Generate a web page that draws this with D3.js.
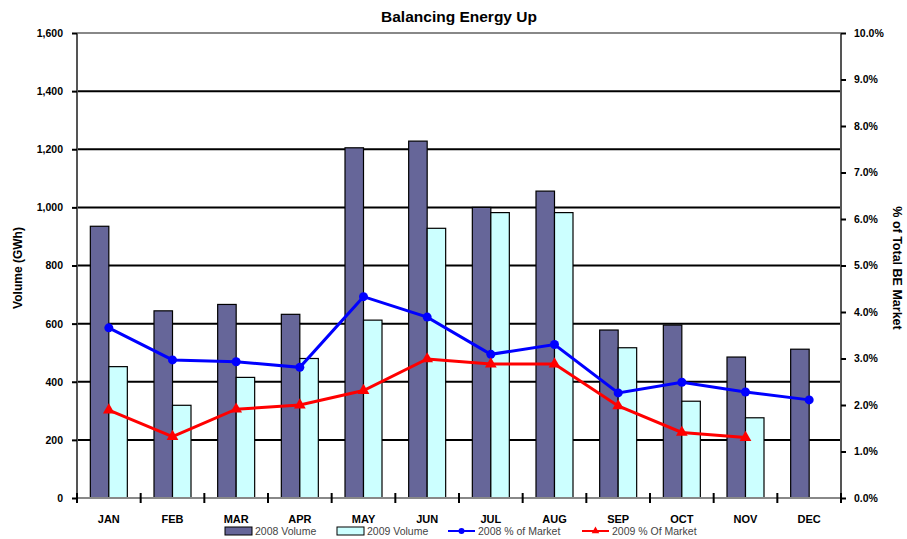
<!DOCTYPE html>
<html><head><meta charset="utf-8">
<script src="https://cdn.jsdelivr.net/npm/d3@7"></script>
<style>
body{margin:0;background:#fff;}
text{font-family:"Liberation Sans",Arial,sans-serif;}
</style></head>
<body><svg id="c" width="907" height="539"></svg>
<script>
const months = ["JAN","FEB","MAR","APR","MAY","JUN","JUL","AUG","SEP","OCT","NOV","DEC"];
const vol2008 = [935,644,666,632,1205,1228,1000,1056,578,595,485,512];
const vol2009 = [452,319,415,480,612,928,982,982,517,333,276,null];
const pct2008 = [3.66,2.97,2.93,2.81,4.33,3.89,3.09,3.30,2.26,2.49,2.28,2.11];
const pct2009 = [1.89,1.32,1.91,2.00,2.31,2.99,2.88,2.88,1.98,1.41,1.30,null];
const volTicks = [0,200,400,600,800,1000,1200,1400,1600];
const pctTicks = [0,1,2,3,4,5,6,7,8,9,10];
const seriesNames = ["2008 Volume","2009 Volume","2008 % of Market","2009 % Of Market"];

const svg = d3.select("#c");
const L = 77, R = 841, T = 33, B = 498;
const x = d3.scaleBand().domain(months).range([L, R]).paddingInner(0).paddingOuter(0);
const yL = d3.scaleLinear().domain([0,1600]).range([B,T]);
const yR = d3.scaleLinear().domain([0,10]).range([B,T]);
const bw = 18.5;

// title
svg.append("text").attr("x",459).attr("y",22).attr("text-anchor","middle")
  .attr("font-size",15.5).attr("font-weight","bold").text("Balancing Energy Up");

// gridlines
svg.append("g").selectAll("line").data(volTicks.filter(d=>d>0 && d<1600)).join("line")
  .attr("x1",L).attr("x2",R).attr("y1",d=>yL(d)).attr("y2",d=>yL(d))
  .attr("stroke","#000").attr("stroke-width",2);
svg.append("line").attr("x1",L).attr("x2",R).attr("y1",T).attr("y2",T).attr("stroke","#888").attr("stroke-width",2);

// bars
const g = svg.append("g");
g.selectAll(".b8").data(months).join("rect")
  .attr("x",d=>x(d)+x.bandwidth()/2-bw).attr("width",bw)
  .attr("y",(d,i)=>yL(vol2008[i])).attr("height",(d,i)=>B-yL(vol2008[i]))
  .attr("fill","#666699").attr("stroke","#000").attr("stroke-width",1.2);
g.selectAll(".b9").data(months.filter((d,i)=>vol2009[i]!=null)).join("rect")
  .attr("x",d=>x(d)+x.bandwidth()/2).attr("width",bw)
  .attr("y",(d)=>yL(vol2009[months.indexOf(d)])).attr("height",(d)=>B-yL(vol2009[months.indexOf(d)]))
  .attr("fill","#CCFFFF").attr("stroke","#000").attr("stroke-width",1.2);

// axes lines
svg.append("line").attr("x1",L).attr("x2",R).attr("y1",B).attr("y2",B).attr("stroke","#888").attr("stroke-width",2);
svg.append("line").attr("x1",L).attr("x2",L).attr("y1",T).attr("y2",B).attr("stroke","#555").attr("stroke-width",2);
svg.append("line").attr("x1",R).attr("x2",R).attr("y1",T).attr("y2",B).attr("stroke","#555").attr("stroke-width",2);

const axL = svg.append("g").attr("transform",`translate(${L},0)`)
  .call(d3.axisLeft(yL).tickValues(volTicks).tickSize(5).tickPadding(9).tickFormat(d3.format(",")));
const axR = svg.append("g").attr("transform",`translate(${R},0)`)
  .call(d3.axisRight(yR).tickValues(pctTicks).tickSize(5).tickPadding(8).tickFormat(d=>d.toFixed(1)+"%"));
[axL,axR].forEach(a=>{
  a.select(".domain").remove();
  a.selectAll(".tick line").attr("stroke","#000").attr("stroke-width",2);
  a.selectAll(".tick text").attr("font-size",10.5).attr("font-weight","bold").attr("fill","#000")
   .attr("font-family","Liberation Sans, Arial, sans-serif");
});

// x ticks at boundaries
const bounds = months.map(d=>x(d)).concat([R]);
svg.append("g").selectAll("line").data(bounds).join("line")
  .attr("x1",d=>d).attr("x2",d=>d).attr("y1",B-5).attr("y2",B+5)
  .attr("stroke","#000").attr("stroke-width",2);
svg.append("g").selectAll("text").data(months).join("text")
  .attr("x",d=>x(d)+x.bandwidth()/2).attr("y",523).attr("text-anchor","middle")
  .attr("font-size",11).attr("font-weight","bold").text(d=>d);

// lines
const cx = d=>x(d)+x.bandwidth()/2;
const line8 = d3.line().x((d,i)=>cx(months[i])).y(d=>yR(d));
svg.append("path").datum(pct2008).attr("d",line8).attr("fill","none").attr("stroke","#0000FF").attr("stroke-width",3);
svg.append("g").selectAll("circle").data(pct2008).join("circle")
  .attr("cx",(d,i)=>cx(months[i])).attr("cy",d=>yR(d)).attr("r",4.5).attr("fill","#0000FF");

const p9 = pct2009.map((v,i)=>({m:months[i],v})).filter(d=>d.v!=null);
const line9 = d3.line().x(d=>cx(d.m)).y(d=>yR(d.v));
svg.append("path").datum(p9).attr("d",line9).attr("fill","none").attr("stroke","#FF0000").attr("stroke-width",3);
const tri = d3.symbol().type(d3.symbolTriangle).size(60);
svg.append("g").selectAll("path").data(p9).join("path")
  .attr("d",tri).attr("transform",d=>`translate(${cx(d.m)},${yR(d.v)})`).attr("fill","#FF0000");

// axis titles
svg.append("text").attr("transform","translate(22,268) rotate(-90)").attr("text-anchor","middle")
  .attr("font-size",12).attr("font-weight","bold").text("Volume (GWh)");
svg.append("text").attr("transform","translate(893,268) rotate(90)").attr("text-anchor","middle")
  .attr("font-size",12.5).attr("font-weight","bold").text("% of Total BE Market");

// legend
const lg = svg.append("g");
const lx = [225,337,448,582];
const lyC = 531;
lg.append("rect").attr("x",lx[0]).attr("y",lyC-4).attr("width",27).attr("height",8).attr("fill","#666699").attr("stroke","#000");
lg.append("rect").attr("x",lx[1]).attr("y",lyC-4).attr("width",27).attr("height",8).attr("fill","#CCFFFF").attr("stroke","#000");
lg.append("line").attr("x1",lx[2]).attr("x2",lx[2]+27).attr("y1",lyC).attr("y2",lyC).attr("stroke","#0000FF").attr("stroke-width",2);
lg.append("circle").attr("cx",lx[2]+13.5).attr("cy",lyC).attr("r",3).attr("fill","#0000FF");
lg.append("line").attr("x1",lx[3]).attr("x2",lx[3]+27).attr("y1",lyC).attr("y2",lyC).attr("stroke","#FF0000").attr("stroke-width",2);
lg.append("path").attr("d",d3.symbol().type(d3.symbolTriangle).size(25)).attr("transform",`translate(${lx[3]+13.5},${lyC})`).attr("fill","#FF0000");
lg.selectAll("text").data(seriesNames).join("text")
  .attr("x",(d,i)=>lx[i]+30).attr("y",lyC+3.5).attr("font-size",10.5).attr("fill","#444").text(d=>d);
</script></body></html>
